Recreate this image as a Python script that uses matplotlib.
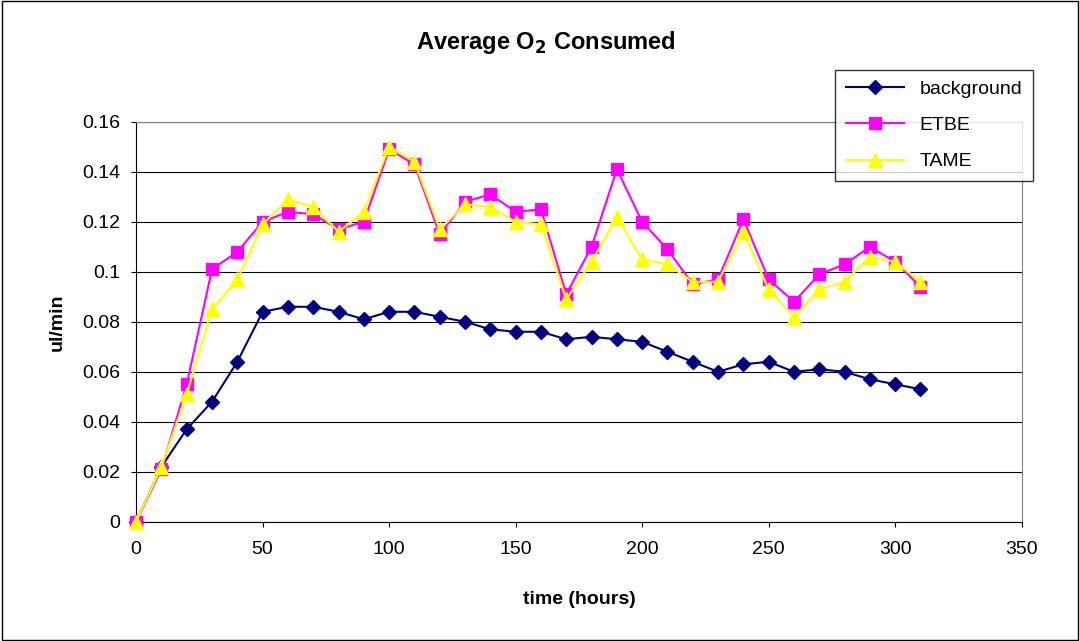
import matplotlib
matplotlib.use("Agg")
import matplotlib.pyplot as plt
from matplotlib.patches import Rectangle

plt.rcParams['font.family'] = ['Liberation Sans', 'DejaVu Sans']

hours = list(range(0, 320, 10))
background = [0, 0.022, 0.037, 0.048, 0.064, 0.084, 0.086, 0.086, 0.084, 0.081, 0.084, 0.084,
              0.082, 0.080, 0.077, 0.076, 0.076, 0.073, 0.074, 0.073, 0.072, 0.068, 0.064, 0.060,
              0.063, 0.064, 0.060, 0.061, 0.060, 0.057, 0.055, 0.053]
etbe = [0, 0.021, 0.055, 0.101, 0.108, 0.120, 0.124, 0.123, 0.117, 0.120, 0.149, 0.143, 0.115,
        0.128, 0.131, 0.124, 0.125, 0.091, 0.110, 0.141, 0.120, 0.109, 0.095, 0.097, 0.121,
        0.097, 0.088, 0.099, 0.103, 0.110, 0.104, 0.094]
tame = [0, 0.022, 0.051, 0.085, 0.097, 0.119, 0.129, 0.126, 0.116, 0.124, 0.150, 0.144, 0.117,
        0.127, 0.126, 0.120, 0.119, 0.089, 0.104, 0.122, 0.105, 0.103, 0.096, 0.096, 0.116,
        0.093, 0.082, 0.093, 0.096, 0.106, 0.104, 0.096]

fig = plt.figure(figsize=(10.8, 6.41), dpi=100)
fig.patches.append(Rectangle((0.002, 0.002), 0.996, 0.996, transform=fig.transFigure,
                             fill=False, edgecolor='black', linewidth=1))
ax = fig.add_axes([0.126, 0.186, 0.82, 0.624])
ax.plot(hours, background, color='#000080', marker='D', markersize=7, linewidth=1.5,
        label='background', clip_on=False, zorder=3)
ax.plot(hours, etbe, color='#FF00FF', marker='s', markersize=9, linewidth=1.5,
        label='ETBE', clip_on=False, zorder=3)
ax.plot(hours, tame, color='#FFFF00', marker='^', markersize=10, linewidth=1.5,
        label='TAME', clip_on=False, zorder=3)
ax.set_xlim(0, 350)
ax.set_ylim(0, 0.16)
ax.set_xticks(range(0, 351, 50))
ax.set_yticks([0, 0.02, 0.04, 0.06, 0.08, 0.1, 0.12, 0.14, 0.16])
ax.set_yticklabels(['0', '0.02', '0.04', '0.06', '0.08', '0.1', '0.12', '0.14', '0.16'])
ax.tick_params(labelsize=14, direction='out')
ax.tick_params(axis='x', pad=10)
ax.tick_params(axis='y', pad=8)
ax.yaxis.grid(True, color='black', linewidth=0.8)
ax.set_axisbelow(True)
for s in ['top', 'right']:
    ax.spines[s].set_color('#808080')
ax.set_xlabel('time (hours)', fontsize=14, fontweight='bold', labelpad=24)
ax.set_ylabel('ul/min', fontsize=14, fontweight='bold', labelpad=12)
fig.text(0.505, 0.934, r'Average O$_\mathbf{2}$ Consumed', ha='center', va='center',
         fontsize=17, fontweight='bold')
leg = fig.legend(loc='upper left', bbox_to_anchor=(0.773, 0.891), fontsize=14, frameon=True,
                 fancybox=False, edgecolor='black', borderpad=0.55, labelspacing=0.95,
                 handlelength=3.0, borderaxespad=0)
leg.get_frame().set_linewidth(1)
fig.savefig('out.png', dpi=100)
